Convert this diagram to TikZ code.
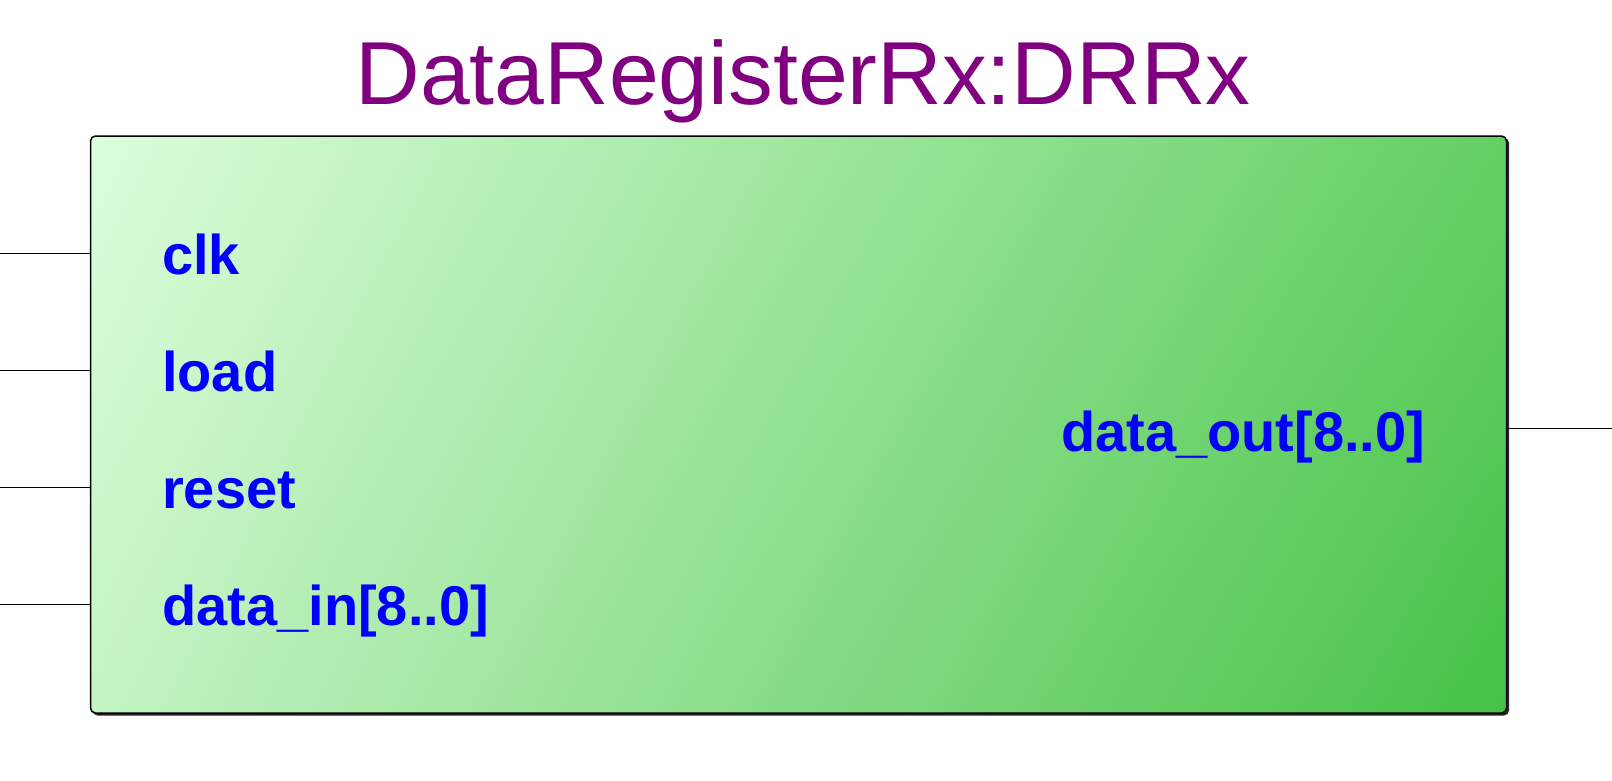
\documentclass[tikz,border=0pt]{standalone}
\usepackage{fontspec}
\setmainfont{Liberation Sans}
\usepackage{tikz}
\usetikzlibrary{positioning, calc, shadings}

\definecolor{symtitle}{RGB}{128,0,128}
\definecolor{pinblue}{RGB}{0,0,255}
\definecolor{gtl}{RGB}{220,254,220}
\definecolor{gtr}{RGB}{100,208,100}
\definecolor{gbl}{RGB}{196,244,196}
\definecolor{gbr}{RGB}{70,194,70}

\tikzset{
  symbox/.style={rectangle, rounded corners=5pt, draw=black, line width=1.5pt,
    minimum width=1416pt, minimum height=577pt, inner sep=0pt,
    upper left=gtl, upper right=gtr, lower left=gbl, lower right=gbr},
  pinlabel/.style={text=pinblue, font=\fontsize{56}{60}\selectfont\bfseries, inner sep=0pt},
  wire/.style={line width=1.5pt}
}

\begin{document}
\begin{tikzpicture}[x=1pt, y=-1pt]
    \useasboundingbox (0,0) rectangle (1612,780);

    % Shadow and the symbol body
    \fill[black!85, rounded corners=5pt] (92.5,138) rectangle (1509,715.5);
    \node[symbox] (drrx) at (798.5,424.5) {};

    % Instance name above the body
    \node[anchor=base, text=symtitle, font=\fontsize{89.5}{94}\selectfont, inner sep=0pt]
        (title) at (803,104.5) {DataRegisterRx:DRRx};

    % Pin ends at the picture edges
    \coordinate (pclk) at (0,253.3);
    \coordinate (pload) at (0,370.3);
    \coordinate (preset) at (0,487.3);
    \coordinate (pdin) at (0,604.3);
    \coordinate (pdout) at (1612,428.3);

    % Pin wires
    \draw[wire] (pclk) -- (pclk -| drrx.west);
    \draw[wire] (pload) -- (pload -| drrx.west);
    \draw[wire] (preset) -- (preset -| drrx.west);
    \draw[wire] (pdin) -- (pdin -| drrx.west);
    \draw[wire] (pdout -| drrx.east) -- (pdout);

    % Port names
    \node[pinlabel, anchor=base west] (lclk) at (162,274.8) {clk};
    \node[pinlabel, anchor=base west] (lload) at (162,391.8) {load};
    \node[pinlabel, anchor=base west] (lreset) at (162,508.8) {reset};
    \node[pinlabel, anchor=base west] (ldin) at (162,625.8) {data\_in[8..0]};
    \node[pinlabel, anchor=base west] (ldout) at (1061,451) {data\_out[8..0]};
\end{tikzpicture}
\end{document}
